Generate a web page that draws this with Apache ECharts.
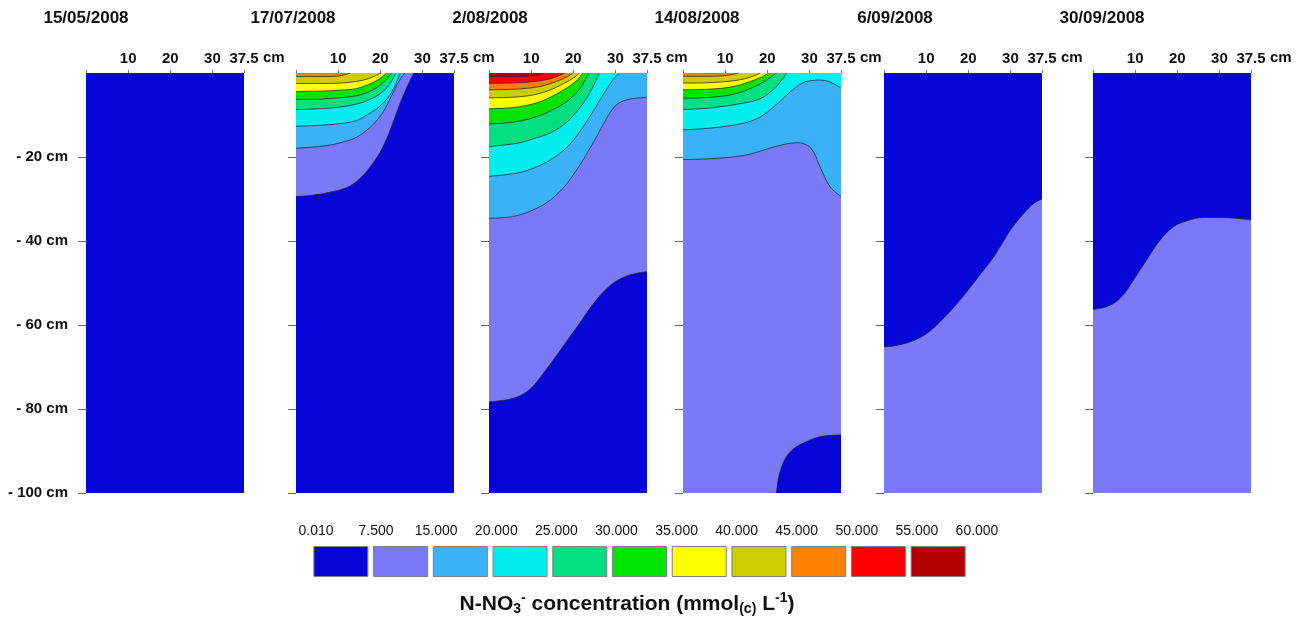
<!DOCTYPE html>
<html>
<head>
<meta charset="utf-8">
<script src="https://cdn.jsdelivr.net/npm/echarts@6.0.0/dist/echarts.min.js"></script>
<style>
html,body{margin:0;padding:0;background:#fff;}
#chart{width:1305px;height:617px;}
</style>
</head>
<body>
<div id="chart"></div>
<script>
// ---------------- data ----------------
const DATES = ['15/05/2008', '17/07/2008', '2/08/2008', '14/08/2008', '6/09/2008', '30/09/2008'];
const X_MAX = 37.5;
const X_STEP = 10;
const X_UNIT = 'cm';
const Y_TICKS = [-20, -40, -60, -80, -100];
const BREAKS = ['0.010', '7.500', '15.000', '20.000', '25.000', '30.000', '35.000', '40.000', '45.000', '50.000', '55.000', '60.000'];
const CLASS_COLORS = ['#0606D8', '#7A7AF6', '#3BB2F6', '#00EEEE', '#00DF82', '#00E400', '#FFFF00', '#CCCC00', '#FF8000', '#FF0000', '#B40000'];
// concentration class filling each panel before contours are drawn
const BASE_CLASS = [0, 0, 0, 1, 0, 0];

// contour boundaries: [distance cm, depth cm]; cls = class on the "fill" side
const MAY15 = [];
const JUL17 = [
  {cls: 1, fill: 'up', pts: [[0,-29.4],[4,-29.1],[8,-28.4],[12,-27.3],[15,-25.3],[17.5,-22.5],[20,-18.8],[22,-14.5],[23.5,-10.5],[25,-6.5],[26.5,-3],[28,0]]},
  {cls: 2, fill: 'up', pts: [[0,-17.9],[6.5,-17.4],[11,-16.5],[14.4,-15.3],[16.8,-13.6],[18.4,-12.2],[20.8,-9.1],[23.2,-4.4],[24.7,-1.5],[25.9,0]]},
  {cls: 3, fill: 'up', pts: [[0,-12.7],[6.5,-12.4],[11,-12],[14.4,-11.3],[17,-9.9],[19.9,-7.9],[22.3,-5.2],[23.7,-2.5],[24.7,0]]},
  {cls: 4, fill: 'up', pts: [[0,-8.7],[6,-8.5],[10.5,-8.1],[14.4,-7.4],[17.5,-6.3],[19.9,-5.0],[22,-3],[23.7,0]]},
  {cls: 5, fill: 'up', pts: [[0,-6.3],[6,-6.2],[10.5,-5.9],[14.4,-5.4],[17,-4.6],[19.1,-3.5],[21,-2],[22.7,0]]},
  {cls: 6, fill: 'up', pts: [[0,-4.4],[6,-4.3],[10.5,-4.1],[14.4,-3.7],[17,-2.8],[19.5,-1.6],[21.5,0]]},
  {cls: 7, fill: 'up', pts: [[0,-2.5],[6,-2.5],[10.5,-2.4],[14.4,-2.0],[17,-1.4],[20.3,0]]},
  {cls: 8, fill: 'up', pts: [[0,-0.85],[5,-0.85],[9,-0.8],[11.3,-0.5],[12.8,0]]}
];
const AUG02 = [
  {cls: 1, fill: 'up', pts: [[0,-78.3],[5.6,-77.5],[9.5,-75.5],[13.5,-70.7],[17.5,-65.2],[21.5,-59.6],[25.5,-54],[29.4,-50.1],[33.4,-48.1],[37.5,-47.3]]},
  {cls: 2, fill: 'up', pts: [[0,-34.6],[5.6,-34.2],[9.5,-33],[13.5,-31],[17.5,-27.5],[21.5,-22],[25.5,-15.2],[28.5,-9.8],[30.6,-7.3],[33.5,-6.2],[37.5,-5.8]]},
  {cls: 3, fill: 'up', pts: [[0,-24.6],[6.8,-23.8],[10.7,-22.6],[14.7,-20.6],[18.7,-17.5],[22.7,-12.3],[26.6,-6.0],[29.5,-1.5],[31,0]]},
  {cls: 4, fill: 'up', pts: [[0,-17.5],[6.8,-16.7],[10.7,-15.6],[14.7,-14.2],[18.7,-11.5],[22.7,-6.7],[25.1,-2.4],[26.2,0]]},
  {cls: 5, fill: 'up', pts: [[0,-12.1],[4,-11.9],[8,-11.3],[11.5,-10.3],[14.7,-9],[18.7,-6.6],[21.5,-3.8],[23.7,0]]},
  {cls: 6, fill: 'up', pts: [[0,-8.5],[5,-8.3],[9.5,-7.6],[13,-6.5],[16,-5],[18.7,-3.4],[20.8,-1.8],[22.3,0]]},
  {cls: 7, fill: 'up', pts: [[0,-5.9],[5,-5.8],[9.5,-5.4],[13,-4.6],[16,-3.4],[18.5,-2.1],[20.3,-1],[21.5,0]]},
  {cls: 8, fill: 'up', pts: [[0,-4.0],[5,-3.9],[9.5,-3.6],[13,-3],[16,-2],[18.3,-1],[19.9,0]]},
  {cls: 9, fill: 'up', pts: [[0,-2.45],[5,-2.4],[9,-2.2],[12.5,-1.8],[15.5,-1.1],[17.9,0]]},
  {cls: 10, fill: 'up', pts: [[0,-0.85],[5,-0.85],[9,-0.75],[11.5,-0.45],[13,0]]}
];
const AUG14 = [
  {cls: 0, fill: 'down', pts: [[22.2,-100],[22.6,-96.8],[23.4,-93.8],[24.6,-91.3],[26.5,-89.3],[28.6,-88.1],[32.5,-86.6],[37.5,-86.2]]},
  {cls: 2, fill: 'up', pts: [[0,-20.6],[6.7,-20.4],[14.6,-19.6],[20.6,-17.9],[24.5,-16.9],[27,-16.6],[29.5,-17.2],[31,-18.8],[32.5,-22.3],[34.9,-27.1],[37.5,-29.4]]},
  {cls: 3, fill: 'up', pts: [[0,-13.5],[6.7,-13.1],[14.6,-11.9],[18.6,-10.3],[22.6,-7.1],[26.5,-3.6],[28.5,-2.3],[30.5,-1.8],[32,-1.7],[34.5,-2],[37.5,-3.6]]},
  {cls: 4, fill: 'up', pts: [[0,-8.7],[6.7,-8.3],[14.6,-7.1],[18.6,-6],[21.8,-3.6],[23.8,-1.2],[24.6,0]]},
  {cls: 5, fill: 'up', pts: [[0,-6.0],[5,-5.9],[9.5,-5.5],[13,-4.8],[16,-3.7],[19,-2.2],[20.8,-1],[22.2,0]]},
  {cls: 6, fill: 'up', pts: [[0,-4.0],[5,-3.9],[9.5,-3.6],[13,-3],[16,-2],[18.6,-1],[20.4,0]]},
  {cls: 7, fill: 'up', pts: [[0,-2.4],[5,-2.35],[9.5,-2.1],[13,-1.7],[16,-1],[18.4,0]]},
  {cls: 8, fill: 'up', pts: [[0,-0.8],[5,-0.8],[9,-0.7],[11.5,-0.4],[13.2,0]]}
];
const SEP06 = [
  {cls: 1, fill: 'down', pts: [[0,-65.2],[2.2,-65],[6.2,-64],[10.2,-62],[14.1,-58.4],[18.1,-54],[22.1,-48.9],[26.1,-43.7],[30,-37.4],[33.2,-33.4],[35.6,-31],[37.5,-30]]}
];
const SEP30 = [
  {cls: 1, fill: 'down', pts: [[0,-56.3],[3.3,-55.6],[6.4,-53.7],[9.6,-49.3],[12.7,-44.5],[15.9,-39.8],[19.1,-36.6],[22.3,-35.2],[26.2,-34.4],[30.2,-34.4],[34.1,-34.6],[37.5,-35]]}
];
const PANELS = [MAY15, JUL17, AUG02, AUG14, SEP06, SEP30];

// ---------------- layout ----------------
const PANEL_LEFT = [86, 296, 489, 683, 884, 1093];
const PANEL_W = 158, PANEL_TOP = 73, PANEL_H = 420;
const TITLE_X = [86, 293, 490, 697, 895, 1102];
const FONT = "'Liberation Sans', Arial, sans-serif";

const grid = [], xAxis = [], yAxis = [], series = [], graphic = [];

PANELS.forEach((contours, i) => {
  grid.push({left: PANEL_LEFT[i], top: PANEL_TOP, width: PANEL_W, height: PANEL_H, containLabel: false});
  xAxis.push({
    gridIndex: i, type: 'value', min: 0, max: X_MAX, interval: X_STEP, position: 'top',
    axisLine: {show: false},
    axisTick: {show: true, length: 3, lineStyle: {color: '#777'}},
    axisLabel: {
      margin: 7, color: '#111', fontSize: 15, fontWeight: 'bold', fontFamily: FONT,
      showMinLabel: true, showMaxLabel: true,
      formatter: v => v === 0 ? '' : String(v)
    },
    splitLine: {show: false}
  });
  yAxis.push({
    gridIndex: i, type: 'value', min: -100, max: 0,
    axisLine: {show: false},
    axisTick: {show: true, length: 8, customValues: Y_TICKS, lineStyle: {color: '#666'}},
    axisLabel: {
      show: i === 0, customValues: Y_TICKS, margin: 18, color: '#111', fontSize: 15, fontWeight: 'bold', fontFamily: FONT,
      formatter: v => '- ' + (-v) + ' ' + X_UNIT
    },
    splitLine: {show: false}
  });
  // base fill of the whole panel
  series.push({
    type: 'line', xAxisIndex: i, yAxisIndex: i, silent: true, symbol: 'none', z: 1,
    data: [[0, -100], [X_MAX, -100]],
    lineStyle: {width: 0},
    areaStyle: {color: CLASS_COLORS[BASE_CLASS[i]], opacity: 1, origin: 'end'}
  });
  contours.forEach((c, k) => {
    series.push({
      type: 'line', xAxisIndex: i, yAxisIndex: i, silent: true, symbol: 'none', z: 2 + k,
      smooth: 0.35, data: c.pts,
      lineStyle: {color: '#1c1c30', width: 0.9, opacity: 0.8},
      areaStyle: {color: CLASS_COLORS[c.cls], opacity: 1, origin: c.fill === 'up' ? 'end' : 'start'}
    });
  });
  graphic.push({
    type: 'text', x: TITLE_X[i], y: 18,
    style: {text: DATES[i], align: 'center', verticalAlign: 'middle', fill: '#111',
            font: "bold 17px 'Liberation Sans', Arial, sans-serif"}
  });
  // unit after the last distance label
  graphic.push({
    type: 'text', x: PANEL_LEFT[i] + PANEL_W + 19, y: 58,
    style: {text: X_UNIT, align: 'left', verticalAlign: 'middle', fill: '#111',
            font: "bold 15px 'Liberation Sans', Arial, sans-serif"}
  });
});

// legend colour boxes
const LG = PANELS.length;
grid.push({left: 311, top: 546, width: 657, height: 31});
xAxis.push({gridIndex: LG, type: 'category', data: CLASS_COLORS.map((c, k) => BREAKS[k] + '-' + BREAKS[k + 1]), show: false});
yAxis.push({gridIndex: LG, type: 'value', min: 0, max: 1, show: false});
series.push({
  type: 'bar', xAxisIndex: LG, yAxisIndex: LG, silent: true, barWidth: 55,
  data: CLASS_COLORS.map(c => ({value: 1, itemStyle: {color: c, borderColor: '#808080', borderWidth: 1}}))
});
// legend break labels
const LL = LG + 1;
grid.push({left: 316, top: 520, width: 661, height: 1});
xAxis.push({
  gridIndex: LL, type: 'value', min: 0, max: BREAKS.length - 1, interval: 1, position: 'bottom',
  axisLine: {show: false}, axisTick: {show: false}, splitLine: {show: false},
  axisLabel: {margin: 3, color: '#111', fontSize: 14, fontFamily: FONT, formatter: v => BREAKS[v]}
});
yAxis.push({gridIndex: LL, type: 'value', show: false});

graphic.push({
  type: 'text', x: 627, y: 604,
  style: {
    text: 'N-NO{sub|3}{sup|-} concentration (mmol{sub|(c)} L{sup|-1})',
    align: 'center', verticalAlign: 'middle', fill: '#111',
    font: "bold 21px 'Liberation Sans', Arial, sans-serif",
    rich: {
      sub: {fontSize: 14, fontWeight: 'bold', fontFamily: FONT, fill: '#111', padding: [11, 0, 0, 0]},
      sup: {fontSize: 14, fontWeight: 'bold', fontFamily: FONT, fill: '#111', padding: [0, 0, 11, 0]}
    }
  }
});

const chart = echarts.init(document.getElementById('chart'), null, {renderer: 'canvas'});
chart.setOption({
  animation: false,
  backgroundColor: '#fff',
  textStyle: {fontFamily: FONT},
  grid, xAxis, yAxis, series, graphic
});
</script>
</body>
</html>
